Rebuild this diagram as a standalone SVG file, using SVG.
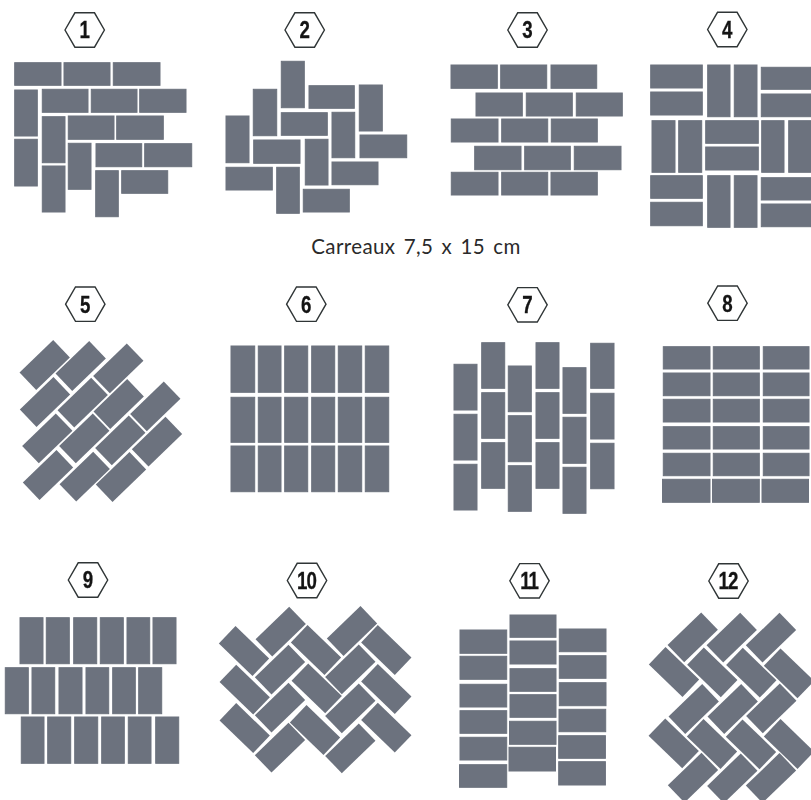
<svg xmlns="http://www.w3.org/2000/svg" width="811" height="800" viewBox="0 0 811 800">
<style>
rect,use{fill:#6c727e}
g[id^=pattern]{filter:blur(.45px)}
g[id^=pattern] rect{stroke:#6c727e;stroke-width:1}
g[id^=label]{filter:blur(.35px)}
.hex{fill:#fff;stroke:#2f3536;stroke-width:1.4}
.num{font-family:"Liberation Sans",Arial,sans-serif;font-weight:700;font-size:24px;fill:#141414;text-anchor:middle;stroke:#141414;stroke-width:.3}
.tight{letter-spacing:-1.3px}
.cap{font-family:Lato,"Open Sans",sans-serif;font-size:20.5px;letter-spacing:.4px;word-spacing:2.6px;fill:#2a2a2a;text-anchor:middle}
</style>
<defs>
<polygon id="hexa" class="hex" points="-19.7,0 -9.8,-17.2 9.8,-17.2 19.7,0 9.8,17.2 -9.8,17.2"/>
<rect id="t" x="-23.4" y="-12" width="46.8" height="24"/>
</defs>
<rect x="0" y="0" width="811" height="800" style="fill:#fff"/>

<g id="label-1"><use href="#hexa" x="84.7" y="30" style="fill:#fff"/><text class="num" transform="translate(84.7,38.4) scale(.78,1)">1</text></g>
<g id="label-2"><use href="#hexa" x="304.7" y="30" style="fill:#fff"/><text class="num" transform="translate(304.7,38.4) scale(.78,1)">2</text></g>
<g id="label-3"><use href="#hexa" x="527.5" y="30" style="fill:#fff"/><text class="num" transform="translate(527.5,38.4) scale(.78,1)">3</text></g>
<g id="label-4"><use href="#hexa" x="727.3" y="29.5" style="fill:#fff"/><text class="num" transform="translate(727.3,37.9) scale(.78,1)">4</text></g>
<g id="label-5"><use href="#hexa" x="85.3" y="304.2" style="fill:#fff"/><text class="num" transform="translate(85.3,312.6) scale(.78,1)">5</text></g>
<g id="label-6"><use href="#hexa" x="306.3" y="304.2" style="fill:#fff"/><text class="num" transform="translate(306.3,312.6) scale(.78,1)">6</text></g>
<g id="label-7"><use href="#hexa" x="527.5" y="304.8" style="fill:#fff"/><text class="num" transform="translate(527.5,313.2) scale(.78,1)">7</text></g>
<g id="label-8"><use href="#hexa" x="727.5" y="303.2" style="fill:#fff"/><text class="num" transform="translate(727.5,311.6) scale(.78,1)">8</text></g>
<g id="label-9"><use href="#hexa" x="88" y="580" style="fill:#fff"/><text class="num" transform="translate(88,588.4) scale(.78,1)">9</text></g>
<g id="label-10"><use href="#hexa" x="307" y="580.5" style="fill:#fff"/><text class="num tight" transform="translate(306.5,588.9) scale(.78,1)">10</text></g>
<g id="label-11"><use href="#hexa" x="529.5" y="580.8" style="fill:#fff"/><text class="num tight" transform="translate(529,589.2) scale(.78,1)">11</text></g>
<g id="label-12"><use href="#hexa" x="728.5" y="581" style="fill:#fff"/><text class="num tight" transform="translate(728,589.4) scale(.78,1)">12</text></g>

<text id="caption" class="cap" x="416" y="253.5">Carreaux 7,5 x 15 cm</text>

<g id="pattern-1">
<rect x="14.7" y="62.7" width="46.3" height="22.6"/><rect x="64" y="62.7" width="46" height="22.6"/><rect x="113.3" y="62.7" width="46.7" height="22.6"/>
<rect x="42.3" y="89.3" width="45.7" height="23"/><rect x="91.3" y="89.3" width="45.7" height="23"/><rect x="139.7" y="89.3" width="46.3" height="23"/>
<rect x="14.7" y="90" width="22.6" height="46"/><rect x="14.7" y="139.3" width="22.6" height="46.7"/>
<rect x="42.3" y="116.7" width="22.7" height="46"/><rect x="42.3" y="166" width="22.7" height="46"/>
<rect x="68.3" y="116" width="45.7" height="23.3"/><rect x="116.7" y="116" width="46.6" height="23.3"/>
<rect x="68.3" y="143.3" width="22.7" height="46"/>
<rect x="96" y="143.7" width="45.7" height="23"/><rect x="144.7" y="143.7" width="47" height="23"/>
<rect x="95.7" y="170.7" width="22.6" height="46"/><rect x="121.7" y="170.7" width="46" height="22.6"/>
</g>

<g id="pattern-2">
<rect x="281.3" y="61.3" width="23" height="46.4"/><rect x="309" y="85.7" width="45.3" height="22.6"/><rect x="359.3" y="85" width="23" height="46"/>
<rect x="253.3" y="89.3" width="23.4" height="46.4"/><rect x="281.3" y="112.7" width="46" height="22.6"/><rect x="332" y="112.3" width="22.7" height="45.4"/>
<rect x="360" y="135" width="46.7" height="22.7"/><rect x="226" y="116" width="23" height="46.7"/><rect x="253.7" y="140" width="46.3" height="23.3"/>
<rect x="305.3" y="139.3" width="22.7" height="45.7"/><rect x="332" y="162" width="46" height="22.7"/><rect x="226" y="167.3" width="46.3" height="22.7"/>
<rect x="276.7" y="167.3" width="22.6" height="46"/><rect x="303.3" y="189.3" width="46" height="22.7"/>
</g>

<g id="pattern-3">
<rect x="451" y="65" width="46.3" height="23.3"/><rect x="500.7" y="65" width="46" height="23.3"/><rect x="551" y="65" width="45.7" height="23.3"/>
<rect x="476" y="93" width="46.3" height="23"/><rect x="526.3" y="93" width="46" height="23"/><rect x="576.3" y="93" width="46" height="23"/>
<rect x="451.3" y="119" width="46.7" height="23"/><rect x="501.7" y="119" width="46" height="23"/><rect x="551.3" y="119" width="46" height="23"/>
<rect x="474.7" y="146.3" width="46.3" height="23.4"/><rect x="524.7" y="146.3" width="45.6" height="23.4"/><rect x="574.3" y="146.3" width="46.7" height="23.4"/>
<rect x="451.3" y="172.3" width="46.7" height="22.7"/><rect x="501.7" y="172.3" width="46" height="22.7"/><rect x="551" y="172.3" width="46.3" height="22.7"/>
</g>

<g id="pattern-4">
<rect x="650.7" y="65" width="51.6" height="23"/><rect x="650.7" y="92" width="51.6" height="23"/>
<rect x="707.7" y="65" width="22.3" height="51.7"/><rect x="734.3" y="65" width="22.7" height="51.7"/>
<rect x="761.3" y="67.3" width="49.7" height="22"/><rect x="761.3" y="94" width="49.7" height="22.7"/>
<rect x="652" y="120.7" width="23" height="51.6"/><rect x="678.7" y="120.7" width="23" height="51.6"/>
<rect x="705.7" y="120.7" width="52.6" height="22.6"/><rect x="705.7" y="147" width="52.6" height="23"/>
<rect x="761.7" y="120.7" width="22.3" height="51.6"/><rect x="788.7" y="120.7" width="22.3" height="51.6"/>
<rect x="650.7" y="175.7" width="51.6" height="22.6"/><rect x="650.7" y="202.3" width="51.6" height="23.4"/>
<rect x="707.7" y="175.7" width="22.3" height="51.6"/><rect x="734.3" y="175.7" width="22.7" height="51.6"/>
<rect x="761.3" y="177.7" width="49.7" height="22.3"/><rect x="761.3" y="204" width="49.7" height="22.7"/>
</g>

<g id="pattern-5">
<use href="#t" transform="translate(44.7,365) rotate(-44)"/><use href="#t" transform="translate(80.7,366) rotate(-44)"/><use href="#t" transform="translate(118.3,368.3) rotate(-44)"/>
<use href="#t" transform="translate(45,402) rotate(-44)"/><use href="#t" transform="translate(82.7,402.7) rotate(-44)"/><use href="#t" transform="translate(118.7,404) rotate(-44)"/><use href="#t" transform="translate(155.3,406.3) rotate(-44)"/>
<use href="#t" transform="translate(47.3,438.3) rotate(-44)"/><use href="#t" transform="translate(84.3,438.3) rotate(-44)"/><use href="#t" transform="translate(120.3,440.3) rotate(-44)"/><use href="#t" transform="translate(157,441.7) rotate(-44)"/>
<use href="#t" transform="translate(48,475) rotate(-44)"/><use href="#t" transform="translate(84.7,476.7) rotate(-44)"/><use href="#t" transform="translate(121,477) rotate(-44)"/>
</g>

<g id="pattern-6">
<rect x="231" y="346" width="23.7" height="46.3"/><rect x="258.3" y="346" width="22.7" height="46.3"/><rect x="284.7" y="346" width="23" height="46.3"/><rect x="311.7" y="346" width="23" height="46.3"/><rect x="338.3" y="346" width="23.4" height="46.3"/><rect x="365.3" y="346" width="23.4" height="46.3"/>
<rect x="231" y="397.3" width="23.7" height="45"/><rect x="258.3" y="397.3" width="22.7" height="45"/><rect x="284.7" y="397.3" width="23" height="45"/><rect x="311.7" y="397.3" width="23" height="45"/><rect x="338.3" y="397.3" width="23.4" height="45"/><rect x="365.3" y="397.3" width="23.4" height="45"/>
<rect x="231" y="446" width="23.7" height="45.7"/><rect x="258.3" y="446" width="22.7" height="45.7"/><rect x="284.7" y="446" width="23" height="45.7"/><rect x="311.7" y="446" width="23" height="45.7"/><rect x="338.3" y="446" width="23.4" height="45.7"/><rect x="365.3" y="446" width="23.4" height="45.7"/>
</g>

<g id="pattern-7">
<rect x="454" y="364.3" width="23" height="45.7"/><rect x="454" y="414.3" width="23" height="45.7"/><rect x="454" y="464.3" width="23" height="45.7"/>
<rect x="481.7" y="342.7" width="23" height="45.6"/><rect x="481.7" y="392.7" width="23" height="45.6"/><rect x="481.7" y="442.7" width="23" height="45.6"/>
<rect x="508.3" y="366" width="23" height="45.7"/><rect x="508.3" y="415.7" width="23" height="46"/><rect x="508.3" y="465.7" width="23" height="45.6"/>
<rect x="536" y="342.7" width="23" height="45.6"/><rect x="536" y="392.7" width="23" height="45.6"/><rect x="536" y="442.7" width="23" height="45.6"/>
<rect x="563" y="367.7" width="23" height="45.6"/><rect x="563" y="417.3" width="23" height="46"/><rect x="563" y="467.3" width="23" height="46"/>
<rect x="590.7" y="343.3" width="23.3" height="45"/><rect x="590.7" y="393.3" width="23.3" height="45.7"/><rect x="590.7" y="443.3" width="23.3" height="45.4"/>
</g>

<g id="pattern-8">
<rect x="663.3" y="346.7" width="46.7" height="22.3"/><rect x="713.3" y="346.7" width="46" height="22.3"/><rect x="763.3" y="346.7" width="45.7" height="22.3"/>
<rect x="663.3" y="373" width="46.7" height="22.7"/><rect x="713.3" y="373" width="46" height="22.7"/><rect x="763.3" y="373" width="45.7" height="22.7"/>
<rect x="663.3" y="399.3" width="46.7" height="22.7"/><rect x="713.3" y="399.3" width="46" height="22.7"/><rect x="763.3" y="399.3" width="45.7" height="22.7"/>
<rect x="663.3" y="426.7" width="46.7" height="22.3"/><rect x="713.3" y="426.7" width="46" height="22.3"/><rect x="763.3" y="426.7" width="45.7" height="22.3"/>
<rect x="663.3" y="453.3" width="46.7" height="22.4"/><rect x="713.3" y="453.3" width="46" height="22.4"/><rect x="763.3" y="453.3" width="45.7" height="22.4"/>
<rect x="662.5" y="479.3" width="47.5" height="23"/><rect x="712.5" y="479.3" width="46.8" height="23"/><rect x="762" y="479.3" width="46.5" height="23"/>
</g>

<g id="pattern-9">
<rect x="20" y="617.7" width="23" height="46"/><rect x="46.3" y="617.7" width="23" height="46"/><rect x="73.7" y="617.7" width="23" height="46"/><rect x="100.3" y="617.7" width="23" height="46"/><rect x="127" y="617.7" width="22.7" height="46"/><rect x="153" y="617.7" width="23" height="46"/>
<rect x="5.3" y="667.7" width="23" height="46"/><rect x="32" y="667.7" width="22.7" height="46"/><rect x="59" y="667.7" width="23" height="46"/><rect x="86" y="667.7" width="22.7" height="46"/><rect x="112.7" y="667.7" width="22.6" height="46"/><rect x="138.7" y="667.7" width="23" height="46"/>
<rect x="21.3" y="717" width="22.7" height="46.3"/><rect x="47.7" y="717" width="23" height="46.3"/><rect x="74.7" y="717" width="23" height="46.3"/><rect x="101.7" y="717" width="22.6" height="46.3"/><rect x="128.3" y="717" width="22.7" height="46.3"/><rect x="155.7" y="717" width="23" height="46.3"/>
</g>

<g id="pattern-10">
<use href="#t" transform="translate(280.7,631.7) rotate(-44)"/><use href="#t" transform="translate(352,631) rotate(-44)"/>
<use href="#t" transform="translate(280,669.7) rotate(-44)"/><use href="#t" transform="translate(350.3,669.3) rotate(-44)"/>
<use href="#t" transform="translate(280,707.7) rotate(-44)"/><use href="#t" transform="translate(350.3,708.3) rotate(-44)"/>
<use href="#t" transform="translate(280,747.7) rotate(-44)"/><use href="#t" transform="translate(350.3,748.3) rotate(-44)"/>
<use href="#t" transform="translate(244,651) rotate(44)"/><use href="#t" transform="translate(244.7,689.7) rotate(44)"/><use href="#t" transform="translate(244.7,728) rotate(44)"/>
<use href="#t" transform="translate(316,650) rotate(44)"/><use href="#t" transform="translate(316.7,688.3) rotate(44)"/><use href="#t" transform="translate(315,730) rotate(44)"/>
<use href="#t" transform="translate(386.3,650) rotate(44)"/><use href="#t" transform="translate(386.3,689) rotate(44)"/><use href="#t" transform="translate(386.3,727.7) rotate(44)"/>
</g>

<g id="pattern-11">
<rect x="460" y="630" width="46.7" height="23.3"/><rect x="460" y="656.3" width="46.7" height="23"/><rect x="460" y="684.3" width="46.7" height="22.7"/><rect x="460" y="710.7" width="46.7" height="22.6"/><rect x="460" y="737.3" width="46.7" height="22.7"/><rect x="459.5" y="764.7" width="47.2" height="22.6"/>
<rect x="510" y="615" width="46" height="22.3"/><rect x="510" y="641" width="46" height="23"/><rect x="510" y="668.7" width="46" height="22.6"/><rect x="510" y="694.7" width="46" height="22.6"/><rect x="509.5" y="721.3" width="46.5" height="23"/><rect x="509" y="747.3" width="46.5" height="23.7"/>
<rect x="559.3" y="629" width="46.7" height="22.7"/><rect x="559.3" y="655.7" width="46.7" height="22.6"/><rect x="559.3" y="682.7" width="46.7" height="23"/><rect x="559" y="709.3" width="46.7" height="22.4"/><rect x="558.7" y="735.7" width="46.7" height="22.6"/><rect x="558.7" y="761.7" width="46.7" height="23.3"/>
</g>

<g id="pattern-12">
<use href="#t" transform="translate(692.7,637.3) rotate(-44)"/><use href="#t" transform="translate(731.7,637.7) rotate(-44)"/><use href="#t" transform="translate(771,637.7) rotate(-44)"/>
<use href="#t" transform="translate(674,672) rotate(44)"/><use href="#t" transform="translate(712.3,672.3) rotate(44)"/><use href="#t" transform="translate(751.3,672.7) rotate(44)"/><use href="#t" transform="translate(789,673.3) rotate(44)"/>
<use href="#t" transform="translate(693.7,709) rotate(-44)"/><use href="#t" transform="translate(732.7,709) rotate(-44)"/><use href="#t" transform="translate(771.3,708.3) rotate(-44)"/>
<use href="#t" transform="translate(673.7,743.3) rotate(44)"/><use href="#t" transform="translate(712,744) rotate(44)"/><use href="#t" transform="translate(751,744.3) rotate(44)"/><use href="#t" transform="translate(789,744) rotate(44)"/>
<use href="#t" transform="translate(693,777.7) rotate(-44)"/><use href="#t" transform="translate(732.3,778.3) rotate(-44)"/><use href="#t" transform="translate(771,778) rotate(-44)"/>
</g>
</svg>
